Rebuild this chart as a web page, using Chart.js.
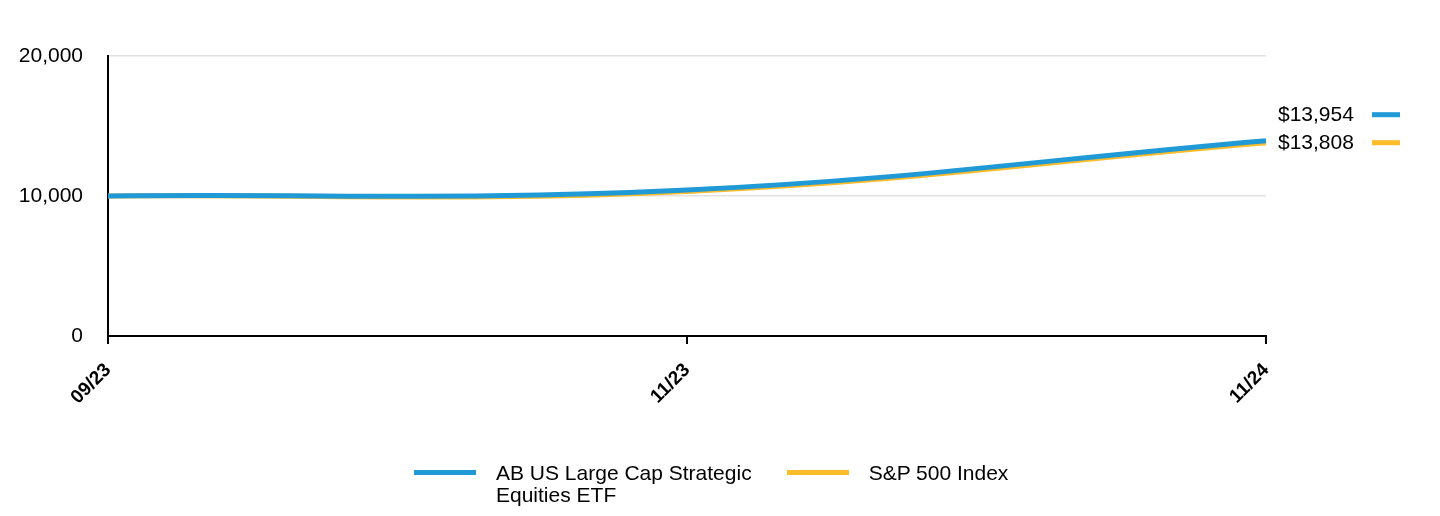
<!DOCTYPE html>
<html>
<head>
<meta charset="utf-8">
<script src="https://cdn.jsdelivr.net/npm/chart.js@4"></script>
<style>
  html, body { margin: 0; padding: 0; background: #fff; }
  #wrap { position: relative; width: 1440px; height: 516px; }
  #legend {
    position: absolute; left: 414px; top: 462px;
    display: flex; align-items: flex-start;
    font: 21px 'Liberation Sans', Arial, sans-serif; line-height: 22px; color: #000;
  }
  .item { display: flex; align-items: flex-start; margin-right: 35px; }
  .swatch { width: 62px; height: 5px; margin-top: 8px; margin-right: 20px; }
</style>
</head>
<body>
<div id="wrap">
  <canvas id="chart"></canvas>
  <div id="legend"></div>
</div>
<script>
// Data.
const dates = ['09/23', '11/23', '11/24'];
const fund_name = ['AB US Large Cap Strategic', 'Equities ETF'];
const fund_values = [10000, 10430, 13954];
const index_name = ['S&P 500 Index'];
const index_values = [10000, 10330, 13808];
const y_ticks = [0, 10000, 20000];

const blue = '#209ad6';
const yellow = '#fdbc2a';
const font = 'Liberation Sans, Arial, sans-serif';

// Draws the final values at the right edge of the plot, with a short line swatch.
const end_labels = {
    id: 'end_labels',
    afterDatasetsDraw(chart) {
        const ctx = chart.ctx;
        const y = chart.scales.y;
        const area = chart.chartArea;
        const last = dates.length - 1;
        const y_index = y.getPixelForValue(index_values[last]);
        const y_fund = Math.min(y.getPixelForValue(fund_values[last]), y_index - 28);
        const items = [
            [fund_values[last], y_fund, blue],
            [index_values[last], y_index, yellow]
        ];
        ctx.save();
        ctx.font = '21px ' + font;
        ctx.textBaseline = 'middle';
        ctx.textAlign = 'left';
        for (const [v, py, color] of items) {
            ctx.fillStyle = '#000';
            ctx.fillText('$' + v.toLocaleString('en-US'), area.right + 12, py + 1);
            ctx.fillStyle = color;
            ctx.fillRect(area.right + 106, py - 2.5, 28, 5);
        }
        ctx.restore();
    }
};

const chart = new Chart(document.getElementById('chart'), {
    type: 'line',
    data: {
        labels: dates,
        datasets: [{
            label: fund_name,
            data: fund_values,
            borderColor: blue,
            borderWidth: 5,
            pointRadius: 0,
            tension: 0.4
        }, {
            label: index_name,
            data: index_values,
            borderColor: yellow,
            borderWidth: 5,
            pointRadius: 0,
            tension: 0.4
        }]
    },
    options: {
        responsive: true,
        maintainAspectRatio: false,
        animation: false,
        layout: { padding: { top: 56, right: 174, left: 0, bottom: 0 } },
        plugins: {
            tooltip: { enabled: false },
            legend: { display: false }
        },
        scales: {
            x: {
                offset: false,
                grid: {
                    drawOnChartArea: false,
                    drawTicks: true,
                    tickLength: 8,
                    color: '#000',
                    lineWidth: 2
                },
                border: { color: '#000', width: 2 },
                ticks: {
                    color: '#000',
                    font: { family: font, size: 19, weight: 'bold' },
                    maxRotation: 45,
                    minRotation: 45,
                    padding: 15
                },
                afterFit(scale) { scale.height = 180; }
            },
            y: {
                min: 0,
                max: 20000,
                afterBuildTicks(scale) { scale.ticks = y_ticks.map(v => ({ value: v })); },
                grid: {
                    color: (c) => c.tick.value === 0 ? 'rgba(0,0,0,0)' : '#e2e2e2',
                    lineWidth: 1.5,
                    drawTicks: false
                },
                border: { color: '#000', width: 2 },
                ticks: {
                    color: '#000',
                    font: { family: font, size: 21 },
                    padding: 25,
                    callback: (v) => v.toLocaleString('en-US')
                },
                afterFit(scale) { scale.width = 108; }
            }
        }
    },
    plugins: [end_labels]
});

// Legend as html, built from the datasets.
const legend = document.getElementById('legend');
chart.data.datasets.forEach(ds => {
    const item = document.createElement('div');
    item.className = 'item';
    const sw = document.createElement('div');
    sw.className = 'swatch';
    sw.style.background = ds.borderColor;
    const txt = document.createElement('div');
    txt.innerHTML = ds.label.join('<br>');
    item.appendChild(sw);
    item.appendChild(txt);
    legend.appendChild(item);
});
</script>
</body>
</html>
